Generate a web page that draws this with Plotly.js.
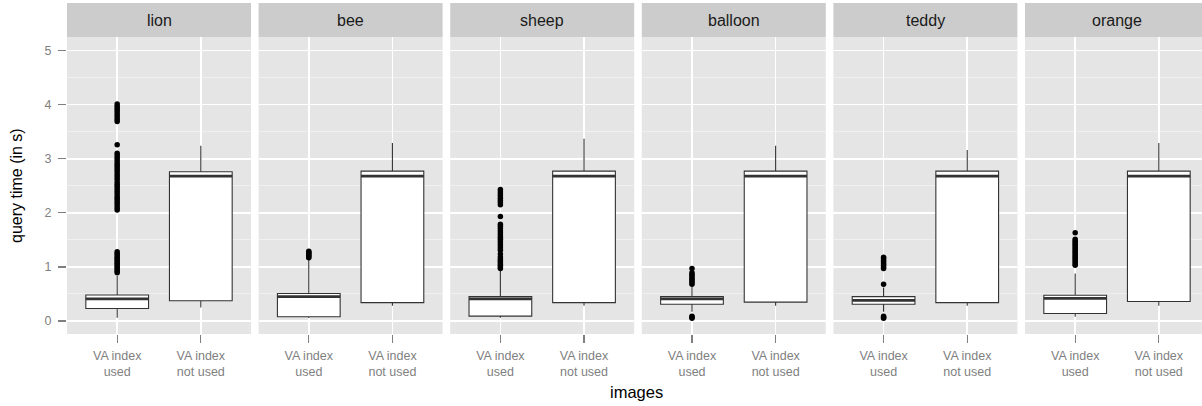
<!DOCTYPE html>
<html>
<head>
<meta charset="utf-8">
<script src="https://cdn.plot.ly/plotly-3.0.1.min.js"></script>
<style>html,body{margin:0;padding:0;background:#fff;}</style>
</head>
<body>
<div id="chart" style="width:1202px;height:406px;"></div>
<script>
// ---- data ----
const facets = ['lion', 'bee', 'sheep', 'balloon', 'teddy', 'orange'];
const groupPositions = [1, 2];
const groupLabels = ['VA index<br>used', 'VA index<br>not used'];

// "VA index used" box statistics per facet
const usedLower  = [0.06, 0.055, 0.06, 0.17, 0.17, 0.08];
const usedQ1     = [0.23, 0.08, 0.09, 0.31, 0.31, 0.14];
const usedMedian = [0.41, 0.45, 0.41, 0.41, 0.38, 0.42];
const usedQ3     = [0.48, 0.51, 0.45, 0.45, 0.45, 0.475];
const usedUpper  = [0.83, 1.13, 0.93, 0.63, 0.62, 0.88];

// "VA index not used" box statistics per facet
const notUsedLower  = [0.25, 0.28, 0.28, 0.28, 0.28, 0.28];
const notUsedQ1     = [0.375, 0.34, 0.34, 0.35, 0.34, 0.36];
const notUsedMedian = [2.68, 2.68, 2.68, 2.68, 2.68, 2.68];
const notUsedQ3     = [2.76, 2.77, 2.77, 2.77, 2.77, 2.77];
const notUsedUpper  = [3.24, 3.29, 3.37, 3.24, 3.16, 3.29];

// outliers of "VA index used"
const lionOutliers = [0.89, 0.92, 0.95, 0.98, 1.01, 1.04, 1.07, 1.10, 1.13, 1.16, 1.19, 1.22, 1.25, 1.28,
  2.05, 2.09, 2.13, 2.17, 2.21, 2.25, 2.29, 2.33, 2.37, 2.41, 2.45, 2.49, 2.53, 2.57, 2.62, 2.66, 2.70,
  2.74, 2.78, 2.82, 2.86, 2.90, 2.94, 2.98, 3.02, 3.06, 3.10, 3.26,
  3.69, 3.73, 3.77, 3.81, 3.85, 3.89, 3.93, 3.97, 4.01];
const beeOutliers = [1.17, 1.19, 1.21, 1.23, 1.25, 1.27, 1.29];
const sheepOutliers = [0.97, 1.00, 1.03, 1.06, 1.09, 1.12, 1.15, 1.19, 1.24, 1.31, 1.35, 1.39, 1.43,
  1.47, 1.51, 1.55, 1.59, 1.63, 1.67, 1.71, 1.75, 1.79, 1.93, 2.15, 2.19, 2.23, 2.27, 2.31, 2.35, 2.39, 2.43];
const balloonOutliers = [0.05, 0.07, 0.09, 0.68, 0.71, 0.74, 0.77, 0.80, 0.83, 0.86, 0.89, 0.97];
const teddyOutliers = [0.05, 0.07, 0.09, 0.68, 0.97, 1.00, 1.03, 1.06, 1.09, 1.12, 1.15, 1.18];
const orangeOutliers = [1.03, 1.06, 1.09, 1.12, 1.15, 1.18, 1.21, 1.24, 1.27, 1.30, 1.33, 1.36, 1.39,
  1.42, 1.45, 1.48, 1.51, 1.63];
const outliers = [lionOutliers, beeOutliers, sheepOutliers, balloonOutliers, teddyOutliers, orangeOutliers];

const yTicks = [0, 1, 2, 3, 4, 5];
const xTitle = 'images';
const yTitle = 'query time (in s)';

// ---- layout geometry (pixels) ----
const W = 1202, H = 406;
const mL = 67, mR = 0, mT = 3, mB = 72;
const plotW = W - mL - mR, plotH = H - mT - mB;
const panelW = 184, panelStep = 191.6, stripH = 34;
const unitPx = panelW / 2.2;
const FONT = 'Liberation Sans, Arial, Helvetica, sans-serif';
const panelTop = (plotH - stripH) / plotH;

const traces = [];
const layout = {
  width: W, height: H,
  margin: {l: mL, r: mR, t: mT, b: mB, pad: 0},
  paper_bgcolor: '#ffffff',
  plot_bgcolor: '#E5E5E5',
  showlegend: false,
  hovermode: false,
  boxmode: 'overlay',
  font: {family: FONT, color: '#000'},
  shapes: [],
  annotations: []
};

layout.yaxis = {
  domain: [0, panelTop],
  range: [-0.24, 5.25],
  tickvals: yTicks,
  ticktext: yTicks.map(String),
  ticks: 'outside', ticklen: 8, tickwidth: 1.3, tickcolor: '#7F7F7F',
  tickfont: {family: FONT, size: 12.5, color: '#7F7F7F'},
  ticklabelstandoff: 4,
  showgrid: true, gridcolor: '#FFFFFF', gridwidth: 1.6,
  minor: {dtick: 0.5, tick0: 0.5, showgrid: true, gridcolor: '#F2F2F2', gridwidth: 0.8, ticks: ''},
  zeroline: false, showline: false, fixedrange: true
};

facets.forEach((name, i) => {
  const suffix = i === 0 ? '' : String(i + 1);
  const xa = 'x' + suffix;
  const left = i * panelStep;
  const right = Math.min(left + panelW, plotW);
  const d0 = left / plotW, d1 = right / plotW;
  const rangeMax = 0.4 + (right - left) / unitPx;

  layout['xaxis' + suffix] = {
    domain: [d0, d1],
    anchor: 'y',
    range: [0.4, rangeMax],
    tickvals: groupPositions,
    ticktext: groupLabels,
    ticks: 'outside', ticklen: 8, tickwidth: 1.3, tickcolor: '#7F7F7F',
    tickfont: {family: FONT, size: 12.5, color: '#7F7F7F'},
    ticklabelstandoff: 2,
    showgrid: true, gridcolor: '#FFFFFF', gridwidth: 1.6,
    zeroline: false, showline: false, fixedrange: true
  };

  // boxes
  traces.push({
    type: 'box', orientation: 'v', xaxis: xa, yaxis: 'y',
    x: groupPositions,
    lowerfence: [usedLower[i], notUsedLower[i]],
    q1: [usedQ1[i], notUsedQ1[i]],
    median: [usedMedian[i], notUsedMedian[i]],
    q3: [usedQ3[i], notUsedQ3[i]],
    upperfence: [usedUpper[i], notUsedUpper[i]],
    width: 0.75, whiskerwidth: 0,
    fillcolor: '#FFFFFF',
    line: {color: '#333333', width: 1.1},
    boxpoints: false, hoverinfo: 'skip'
  });
  // thicker median band (ggplot fatten)
  const meds = [usedMedian[i], notUsedMedian[i]];
  traces.push({
    type: 'box', orientation: 'v', xaxis: xa, yaxis: 'y',
    x: groupPositions,
    lowerfence: meds, q1: meds, median: meds, q3: meds, upperfence: meds,
    width: 0.75, whiskerwidth: 0,
    fillcolor: 'rgba(0,0,0,0)',
    line: {color: '#333333', width: 2.8},
    boxpoints: false, hoverinfo: 'skip'
  });
  // outliers
  traces.push({
    type: 'scatter', mode: 'markers', xaxis: xa, yaxis: 'y',
    x: outliers[i].map(() => groupPositions[0]),
    y: outliers[i],
    marker: {color: '#000000', size: 5.5, line: {width: 0}},
    hoverinfo: 'skip', cliponaxis: false
  });

  // strip
  layout.shapes.push({
    type: 'rect', xref: 'paper', yref: 'paper',
    x0: d0, x1: d1, y0: panelTop, y1: 1,
    fillcolor: '#CCCCCC', line: {width: 0}, layer: 'below'
  });
  layout.annotations.push({
    xref: 'paper', yref: 'paper',
    x: (left + panelW / 2) / plotW, y: (panelTop + 1) / 2,
    xanchor: 'center', yanchor: 'middle',
    text: name, showarrow: false,
    font: {family: FONT, size: 16, color: '#1A1A1A'}
  });
});

// axis titles
layout.annotations.push({
  xref: 'paper', yref: 'paper',
  x: (636 - mL) / plotW, y: -(392 - (H - mB)) / plotH,
  xanchor: 'center', yanchor: 'middle',
  text: xTitle, showarrow: false,
  font: {family: FONT, size: 16.5, color: '#000'}
});
layout.annotations.push({
  xref: 'paper', yref: 'paper',
  x: (17 - mL) / plotW, y: ((H - mB) - 186) / plotH,
  xanchor: 'center', yanchor: 'middle', textangle: -90,
  text: yTitle, showarrow: false,
  font: {family: FONT, size: 16, color: '#000'}
});

Plotly.newPlot('chart', traces, layout, {displayModeBar: false, staticPlot: true});
</script>
</body>
</html>
